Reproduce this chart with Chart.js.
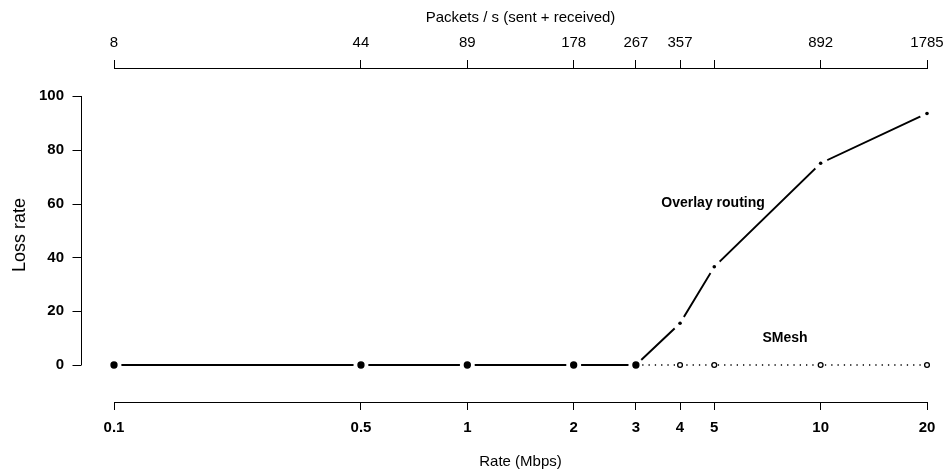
<!DOCTYPE html>
<html lang="en">
  <head>
    <meta charset="UTF-8">
    <title>Loss rate vs rate</title>
    <script src="https://cdn.jsdelivr.net/npm/chart.js"></script>
    <style>
      html, body {
        margin: 0;
        padding: 0;
        background: #fff;
      }
      #wrap {
        width: 945px;
        height: 474px;
      }
    </style>
  </head>
  <body>
    <div id="wrap"><canvas id="lossChart" width="945" height="474"></canvas></div>
    <script>
      // data
      const rates = [0.1, 0.5, 1, 2, 3, 4, 5, 10, 20];
      const packetLabels = ['8', '44', '89', '178', '267', '357', '', '892', '1785'];
      const overlayLoss = [0, 0, 0, 0, 0, 15.5, 36.5, 75, 93.5];
      const smeshLoss = [0, 0, 0, 0, 0, 0, 0, 0, 0];
      const lossTicks = [0, 20, 40, 60, 80, 100];

      // where the series names sit, in data units
      const overlayName = { text: 'Overlay routing', x: 4.96, y: 60.2 };
      const smeshName = { text: 'SMesh', x: 7.93, y: 10 };

      const FONT = "'Liberation Sans', Arial, Helvetica, sans-serif";
      Chart.defaults.color = '#000';
      Chart.defaults.font.family = FONT;

      const overlayPts = rates.map((r, i) => ({ x: r, y: overlayLoss[i] }));
      const smeshPts = rates.map((r, i) => ({ x: r, y: smeshLoss[i] }));

      // R style left axis (detached from the plot box) + series names
      const extrasPlugin = {
        id: 'extras',
        afterDraw(chart) {
          const ctx = chart.ctx;
          const y = chart.scales.y;
          const x = chart.scales.x;
          const axisX = chart.chartArea.left - 33;
          ctx.save();
          ctx.strokeStyle = '#000';
          ctx.lineWidth = 1;
          ctx.beginPath();
          ctx.moveTo(axisX + 0.5, y.getPixelForValue(lossTicks[0]));
          ctx.lineTo(axisX + 0.5, y.getPixelForValue(lossTicks[lossTicks.length - 1]));
          lossTicks.forEach(v => {
            const py = Math.round(y.getPixelForValue(v)) + 0.5;
            ctx.moveTo(axisX + 0.5, py);
            ctx.lineTo(axisX - 8.5, py);
          });
          ctx.stroke();

          ctx.font = 'bold 14px ' + FONT;
          ctx.fillStyle = '#000';
          ctx.textAlign = 'center';
          ctx.textBaseline = 'middle';
          [overlayName, smeshName].forEach(n => {
            ctx.fillText(n.text, x.getPixelForValue(n.x), y.getPixelForValue(n.y));
          });
          ctx.restore();
        }
      };

      // keep the plot box fixed: no room reserved for overhanging labels
      const fixBox = size => s => {
        if (s.isHorizontal()) s.height = size; else s.width = size;
        s.paddingLeft = 0;
        s.paddingRight = 0;
        s.paddingTop = 0;
        s.paddingBottom = 0;
      };

      const ctx = document.getElementById('lossChart').getContext('2d');
      const lossChart = new Chart(ctx, {
        type: 'line',
        data: {
          datasets: [
            {
              // solid line with white gaps round each point (type = "b")
              label: 'Overlay routing',
              data: overlayPts,
              borderColor: '#000',
              borderWidth: 1.9,
              pointRadius: 7.5,
              pointBorderWidth: 0,
              pointBackgroundColor: '#fff',
              tension: 0,
              clip: false,
              order: 3
            },
            {
              label: 'SMesh',
              data: smeshPts,
              borderColor: '#000',
              borderWidth: 1.3,
              borderDash: [1.3, 5],
              segment: {
                borderColor: c => c.p0.parsed.x < 3 ? 'rgba(0,0,0,0)' : '#000'
              },
              pointRadius: rates.map(r => r <= 3 ? 3 : 2.4),
              pointBorderWidth: 1.3,
              pointBorderColor: '#000',
              pointBackgroundColor: rates.map(r => r <= 3 ? '#000' : '#fff'),
              tension: 0,
              clip: false,
              order: 2
            },
            {
              label: 'Overlay routing points',
              data: overlayPts,
              showLine: false,
              pointRadius: 1.8,
              pointBorderWidth: 0,
              pointBackgroundColor: '#000',
              clip: false,
              order: 1
            }
          ]
        },
        options: {
          responsive: false,
          animation: false,
          events: [],
          layout: { padding: { left: 0, right: 18, top: 0, bottom: 0 } },
          plugins: {
            legend: { display: false },
            tooltip: { enabled: false }
          },
          scales: {
            x: {
              type: 'logarithmic',
              position: 'bottom',
              min: 0.1,
              max: 20,
              afterBuildTicks: s => { s.ticks = rates.map(v => ({ value: v })); },
              afterFit: fixBox(72),
              border: { display: true, color: '#000', width: 1 },
              grid: { display: true, drawOnChartArea: false, drawTicks: true, tickLength: 8, color: '#000' },
              ticks: {
                autoSkip: false,
                maxRotation: 0,
                padding: 9,
                font: { size: 15, weight: 'bold' },
                callback: (v, i) => String(rates[i])
              },
              title: {
                display: true,
                text: 'Rate (Mbps)',
                font: { size: 15 },
                padding: { top: 0, bottom: 3 }
              }
            },
            x2: {
              type: 'logarithmic',
              position: 'top',
              min: 0.1,
              max: 20,
              afterBuildTicks: s => { s.ticks = rates.map(v => ({ value: v })); },
              afterFit: fixBox(68),
              border: { display: true, color: '#000', width: 1 },
              grid: { display: true, drawOnChartArea: false, drawTicks: true, tickLength: 8, color: '#000' },
              ticks: {
                autoSkip: false,
                maxRotation: 0,
                padding: 8,
                font: { size: 15 },
                callback: (v, i) => packetLabels[i]
              },
              title: {
                display: true,
                text: 'Packets / s (sent + received)',
                font: { size: 15 },
                padding: { top: 9, bottom: 0 }
              }
            },
            y: {
              type: 'linear',
              min: -13.75,
              max: 110.4,
              afterBuildTicks: s => { s.ticks = lossTicks.map(v => ({ value: v })); },
              afterFit: fixBox(114),
              border: { display: false },
              grid: { display: false, drawTicks: false },
              ticks: {
                padding: 50,
                font: { size: 15, weight: 'bold' },
                callback: v => String(v)
              },
              title: {
                display: true,
                text: 'Loss rate',
                font: { size: 18 },
                padding: { top: 9, bottom: 0 }
              }
            }
          }
        },
        plugins: [extrasPlugin]
      });
    </script>
  </body>
</html>
